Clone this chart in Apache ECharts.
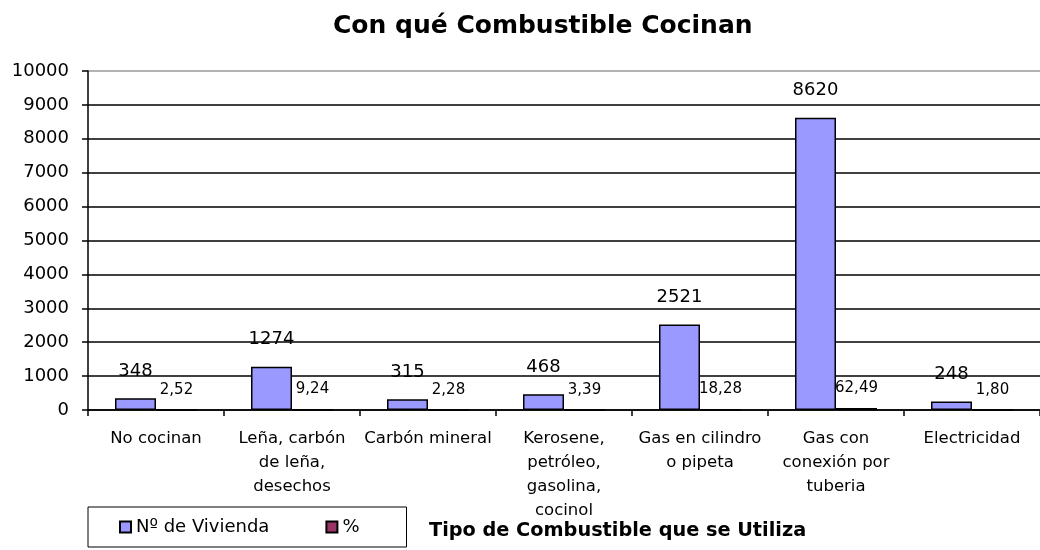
<!DOCTYPE html>
<html>
<head>
<meta charset="utf-8">
<script src="https://cdn.jsdelivr.net/npm/echarts@6/dist/echarts.min.js"></script>
<style>
  html, body { margin: 0; padding: 0; background: #fff; }
  #main { width: 1040px; height: 550px; }
</style>
</head>
<body>
<div id="main"></div>
<script>
// categorias y valores
var categorias = [
    "No cocinan",
    "Leña, carbón\nde leña,\ndesechos",
    "Carbón mineral",
    "Kerosene,\npetróleo,\ngasolina,\ncocinol",
    "Gas en cilindro\no pipeta",
    "Gas con\nconexión por\ntuberia",
    "Electricidad"
];
var viviendas = [348, 1274, 315, 468, 2521, 8620, 248];
var porcentaje = [2.52, 9.24, 2.28, 3.39, 18.28, 62.49, 1.80];
var yTicks = { min: 0, max: 10000, interval: 1000 };

var fuente = "DejaVu Sans";
var myChart = echarts.init(document.getElementById('main'));

// lineas de la grilla: la de arriba gris
var gridColors = [];
for (var i = 0; i < 10; i++) gridColors.push('#000');
gridColors.push('#999');

var option = {
    backgroundColor: '#fff',
    animation: false,
    title: [{
        text: 'Con qué Combustible Cocinan',
        left: 333,
        top: 14,
        padding: 0,
        textStyle: { fontFamily: fuente, fontWeight: 'bold', fontSize: 25, color: '#000' }
    }, {
        text: 'Tipo de Combustible que se Utiliza',
        left: 429,
        top: 521,
        padding: 0,
        textStyle: { fontFamily: fuente, fontWeight: 'bold', fontSize: 19.3, color: '#000' }
    }],
    legend: {
        left: 88,
        top: 507,
        padding: [11, 47, 11, 31],
        borderColor: '#000',
        borderWidth: 1,
        itemWidth: 11,
        itemHeight: 11,
        itemGap: 56,
        icon: 'rect',
        textStyle: { fontFamily: fuente, fontSize: 18, color: '#000' },
        data: ['Nº de Vivienda', '%']
    },
    grid: { left: 88, right: 0, top: 71, bottom: 140 },
    xAxis: {
        type: 'category',
        data: categorias,
        axisLine: { lineStyle: { color: '#000', width: 1.5 } },
        axisTick: { show: true, length: 6, lineStyle: { color: '#000', width: 1.5 } },
        axisLabel: {
            interval: 0,
            margin: 17,
            fontFamily: fuente,
            fontSize: 16.5,
            lineHeight: 24,
            color: '#000'
        }
    },
    yAxis: {
        type: 'value',
        min: yTicks.min,
        max: yTicks.max,
        interval: yTicks.interval,
        axisLine: { show: true, lineStyle: { color: '#000', width: 1.5 } },
        axisTick: { show: true, length: 6, lineStyle: { color: '#000', width: 1.5 } },
        axisLabel: {
            margin: 19,
            fontFamily: fuente,
            fontSize: 18,
            color: '#000',
            formatter: function (v) { return String(v); }
        },
        splitLine: { lineStyle: { color: gridColors, width: 1.5 } }
    },
    series: [{
        name: 'Nº de Vivienda',
        type: 'bar',
        data: viviendas,
        barWidth: 41,
        barGap: '0%',
        itemStyle: { color: '#9999FF', borderColor: '#000', borderWidth: 1.5 },
        label: {
            show: true,
            position: 'top',
            distance: 18,
            fontFamily: fuente,
            fontSize: 18,
            color: '#000'
        }
    }, {
        name: '%',
        type: 'bar',
        data: porcentaje,
        barWidth: 41,
        itemStyle: { color: '#993366', borderColor: '#000', borderWidth: 1.5 },
        label: {
            show: true,
            position: 'top',
            distance: 12,
            fontFamily: fuente,
            fontSize: 15,
            color: '#000',
            formatter: function (p) {
                return p.value.toFixed(2).replace('.', ',');
            }
        }
    }]
};
myChart.setOption(option);
</script>
</body>
</html>
